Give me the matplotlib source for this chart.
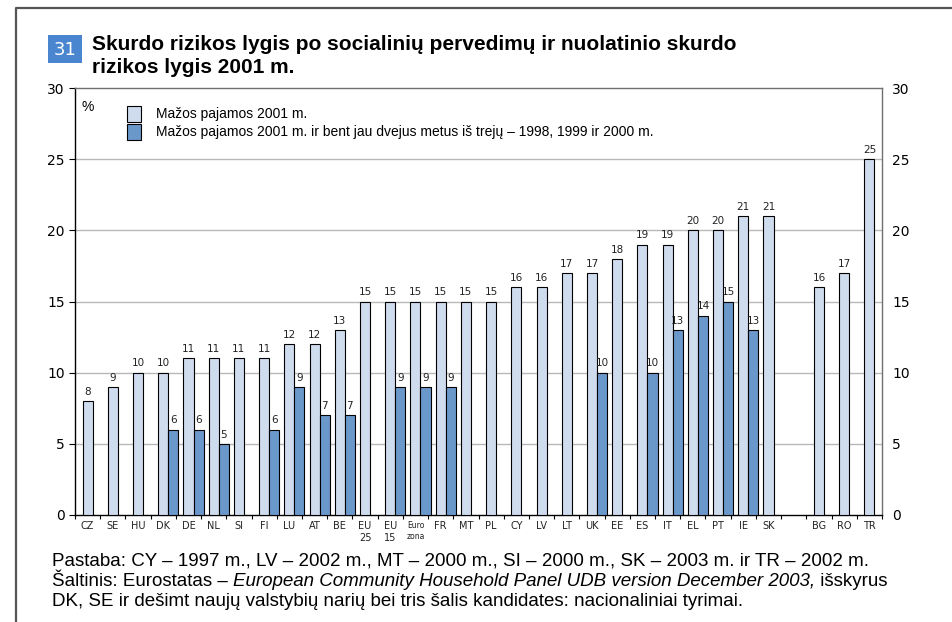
import numpy as np
import matplotlib
matplotlib.use("Agg")
import matplotlib.pyplot as plt
from matplotlib.lines import Line2D
from matplotlib.patches import Rectangle

# country codes, in the order they are shown ('' = spacer slot)
countries = ['CZ', 'SE', 'HU', 'DK', 'DE', 'NL', 'SI', 'FI', 'LU', 'AT', 'BE',
             'EU\n25', 'EU\n15', 'Euro\nzona', 'FR', 'MT', 'PL', 'CY', 'LV', 'LT',
             'UK', 'EE', 'ES', 'IT', 'EL', 'PT', 'IE', 'SK', '', 'BG', 'RO', 'TR']
# at-risk-of-poverty rate 2001, %
low_income_2001 = [8, 9, 10, 10, 11, 11, 11, 11, 12, 12, 13,
                   15, 15, 15, 15, 15, 15, 16, 16, 17,
                   17, 18, 19, 19, 20, 20, 21, 21, None, 16, 17, 25]
# persistent at-risk-of-poverty rate (2001 and 2 of 1998-2000), %
persistent = [None, None, None, 6, 6, 5, None, 6, 9, 7, 7,
              None, 9, 9, 9, None, None, None, None, None,
              10, None, 10, 13, 14, 15, 13, None, None, None, None, None]

label1 = 'Mažos pajamos 2001 m.'
label2 = 'Mažos pajamos 2001 m. ir bent jau dvejus metus iš trejų – 1998, 1999 ir 2000 m.'
title_1 = 'Skurdo rizikos lygis po socialinių pervedimų ir nuolatinio skurdo'
title_2 = 'rizikos lygis 2001 m.'
note = 'Pastaba: CY – 1997 m., LV – 2002 m., MT – 2000 m., SI – 2000 m., SK – 2003 m. ir TR – 2002 m.'
source1 = 'Šaltinis: Eurostatas – '
source_it = 'European Community Household Panel UDB version December 2003,'
source2 = ' išskyrus'
source3 = 'DK, SE ir dešimt naujų valstybių narių bei tris šalis kandidates: nacionaliniai tyrimai.'

W, H = 952, 622
light_col = '#cfdcee'
dark_col = '#6a98cb'

fig = plt.figure(figsize=(W / 100, H / 100), dpi=100)


def fx(x):
    return x / W


def fy(y):
    return 1 - y / H


ax_l, ax_r, ax_t, ax_b = 75, 882, 88, 515
ax = fig.add_axes([fx(ax_l), fy(ax_b), fx(ax_r) - fx(ax_l), fy(ax_t) - fy(ax_b)])

x = np.arange(len(countries))
bw = 0.4
lx = [i for i, v in enumerate(low_income_2001) if v is not None]
lv = [low_income_2001[i] for i in lx]
px = [i for i, v in enumerate(persistent) if v is not None]
pv = [persistent[i] for i in px]

b1 = ax.bar(lx, lv, width=bw, color=light_col, edgecolor='black', linewidth=0.8, zorder=3, label=label1)
b2 = ax.bar(np.array(px) + bw, pv, width=bw, color=dark_col, edgecolor='black', linewidth=0.8, zorder=3, label=label2)

for xi, v in zip(lx, lv):
    ax.text(xi, v + 0.3, str(v), ha='center', va='bottom', fontsize=7.5, family='DejaVu Sans', color='#222222')
for xi, v in zip(px, pv):
    ax.text(xi + bw, v + 0.3, str(v), ha='center', va='bottom', fontsize=7.5, family='DejaVu Sans', color='#222222')

ax.set_xlim(-0.5, len(countries) - 0.5)
ax.set_ylim(0, 30)
ax.set_yticks(range(0, 31, 5))
for yv in range(5, 30, 5):
    ax.axhline(yv, color='#b8b8b8', linewidth=1, zorder=1)

ax.set_xticks(x)
ax.set_xticklabels(countries, fontsize=7, family='DejaVu Sans', linespacing=1.3)
ax.set_xticks(np.arange(-0.5, len(countries), 1), minor=True)
ax.tick_params(axis='x', which='major', length=0, pad=4, colors='#222222')
ax.tick_params(axis='x', which='minor', length=3, width=0.8, direction='out')
for t in ax.get_xticklabels():
    if t.get_text().startswith('Euro'):
        t.set_fontsize(5.5)

ax.tick_params(axis='y', which='major', left=True, right=False, labelleft=True, labelright=True,
               length=4, width=0.8, direction='out', labelsize=10, pad=3.5)
for tk in ax.yaxis.get_major_ticks():
    tk.label1.set_family('DejaVu Sans')
    tk.label2.set_family('DejaVu Sans')

ax.spines['left'].set_color('black')
ax.spines['bottom'].set_color('black')
ax.spines['top'].set_color('#707070')
ax.spines['right'].set_color('#707070')
for s in ax.spines.values():
    s.set_linewidth(1.0)

ax_w = ax_r - ax_l
ax_h = ax_b - ax_t
ax.legend(handles=[b1, b2], loc='upper left',
          bbox_to_anchor=((117 - ax_l) / ax_w, 1 - 8 / ax_h),
          frameon=False, prop={'family': 'Liberation Sans', 'size': 10},
          handlelength=1.0, handleheight=1.4, handletextpad=1.1, labelspacing=0.15, borderaxespad=0.3)
ax.text((82 - ax_l) / ax_w, 1 - 12 / ax_h, '%', transform=ax.transAxes, ha='left', va='top',
        fontsize=10, family='Liberation Sans')

# header: number box and title
fig.add_artist(Rectangle((fx(48), fy(63)), fx(82) - fx(48), fy(35) - fy(63), transform=fig.transFigure,
                         facecolor='#4a86cf', edgecolor='none'))
fig.text(fx(65), fy(50), '31', ha='center', va='center', fontsize=13, color='white', family='DejaVu Sans')
fig.text(fx(92), fy(50), title_1, ha='left', va='baseline', fontsize=15, fontweight='bold', family='Liberation Sans')
fig.text(fx(92), fy(73), title_2, ha='left', va='baseline', fontsize=15, fontweight='bold', family='Liberation Sans')

# notes under the chart
fs = 13.5
fig.text(fx(52), fy(565), note, ha='left', va='baseline', fontsize=fs, family='Liberation Sans')
t1 = fig.text(fx(52), fy(586), source1, ha='left', va='baseline', fontsize=fs, family='Liberation Sans')
fig.canvas.draw()
r = fig.canvas.get_renderer()
x1 = t1.get_window_extent(r).x1
t2 = fig.text(x1 / W, fy(586), source_it, ha='left', va='baseline', fontsize=fs, family='Liberation Sans', style='italic')
x2 = t2.get_window_extent(r).x1
fig.text(x2 / W, fy(586), source2, ha='left', va='baseline', fontsize=fs, family='Liberation Sans')
fig.text(fx(52), fy(606), source3, ha='left', va='baseline', fontsize=fs, family='Liberation Sans')

# outer frame
fig.add_artist(Line2D([fx(16), fx(16), 1.0], [0.0, fy(7.5), fy(7.5)], transform=fig.transFigure,
                      color='#555555', linewidth=1.6))

fig.savefig('out.png', dpi=100)
